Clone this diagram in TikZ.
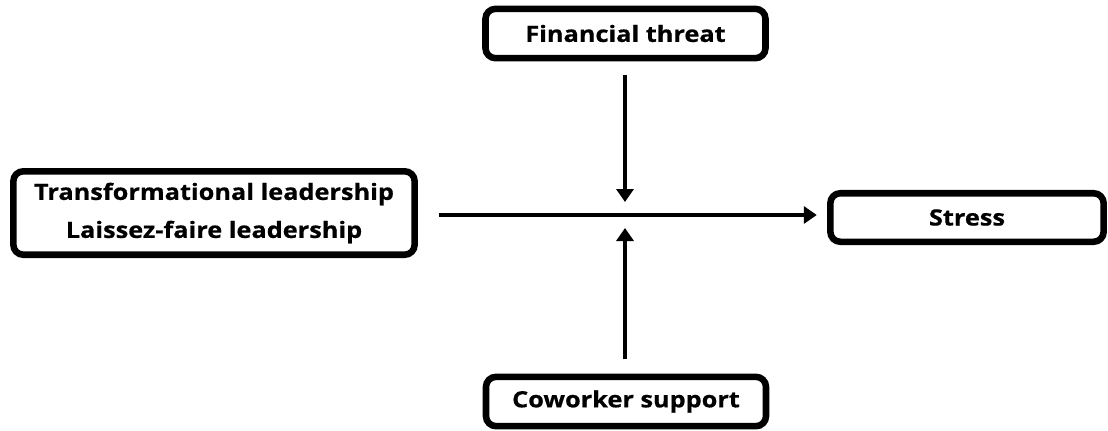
\documentclass[tikz,border=0pt]{standalone}
\usepackage{fontspec}
\setmainfont{Open Sans}[BoldFeatures={FakeStretch=1.13,FakeBold=0.6}]
\usetikzlibrary{arrows.meta}

\tikzset{
  varbox/.style={draw, line width=4.9pt, rounded corners=7.5pt, fill=white,
    inner sep=0pt, align=center, font=\fontsize{16.8}{28.5}\selectfont\bfseries},
  modbox/.style={varbox, minimum width=210pt, minimum height=37pt},
  effect/.style={line width=2.5pt, -{Triangle[length=9.75pt,width=12.75pt]}}
}

\begin{document}
\begin{tikzpicture}[x=0.75pt,y=0.75pt,yscale=-1,xscale=1]
\useasboundingbox (0,0) rectangle (1108,430);

% Boxes
\node [varbox, minimum width=301pt, minimum height=62.6pt] (lead) at (214,213)
  {Transformational leadership\\Laissez-faire leadership};
\node [varbox, minimum width=205pt, minimum height=36.4pt] (stress) at (967,217.5) {Stress};
\node [modbox] (threat) at (625.5,33.5) {Financial threat};
\node [modbox] (support) at (626,401.5) {Coworker support};

% meeting points on the main path
\coordinate (hit) at (625,215);
\coordinate (hittop) at (625,202);
\coordinate (hitbot) at (625,228);

% Arrows
\draw [effect, shorten <=16pt, shorten >=7.7pt] (lead.east |- hit) -- (stress.west |- hit);
\draw [effect, shorten <=10pt] (threat.south -| hit) -- (hittop);
\draw [effect, shorten <=10.7pt] (support.north -| hit) -- (hitbot);

\end{tikzpicture}
\end{document}
